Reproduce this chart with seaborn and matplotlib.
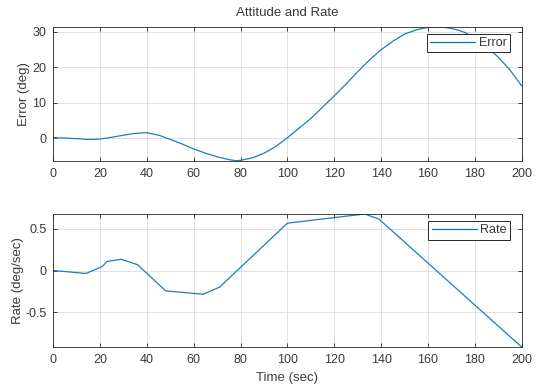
import numpy as np
import pandas as pd
import matplotlib
matplotlib.use("Agg")
import matplotlib.pyplot as plt
import seaborn as sns

# Attitude error history (deg)
err_time = [0, 5, 10, 15, 20, 25, 30, 35, 40, 45, 50, 55, 60, 65, 70, 75, 78, 80,
            85, 90, 95, 100, 105, 110, 115, 120, 125, 130, 135, 140, 145, 150, 155,
            158, 161, 164, 167, 170, 173, 176, 180, 185, 190, 195, 200]
err_deg = [0.2, 0.1, -0.1, -0.3, -0.2, 0.3, 0.9, 1.4, 1.6, 0.9, -0.3, -1.6, -3.0,
           -4.2, -5.2, -6.0, -6.3, -6.2, -5.5, -4.2, -2.3, 0.2, 2.9, 5.6, 8.8, 12.0,
           15.3, 18.8, 22.1, 25.0, 27.4, 29.4, 30.6, 31.05, 31.35, 31.4, 31.3, 31.0,
           30.5, 29.8, 28.3, 25.8, 22.9, 19.3, 14.8]

# Body rate command history (deg/sec)
rate_time = [0, 14, 21, 23, 29, 36, 48, 64, 71, 100, 133, 139, 200]
rate_dps = [0.0, -0.035, 0.05, 0.11, 0.135, 0.07, -0.245, -0.285, -0.20, 0.57,
            0.68, 0.62, -0.92]

x_ticks = [0, 20, 40, 60, 80, 100, 120, 140, 160, 180, 200]
err_ticks = [0, 10, 20, 30]
rate_ticks = [-0.5, 0, 0.5]
rate_ticklabels = ["-0.5", "0", "0.5"]

sns.set_style("ticks")
text_grey = "#3a3a3a"
plt.rcParams.update({
    "font.family": ["Liberation Sans", "DejaVu Sans"],
    "font.size": 9,
    "axes.edgecolor": "#262626",
    "axes.linewidth": 0.6,
    "xtick.direction": "in",
    "ytick.direction": "in",
    "xtick.major.size": 3,
    "ytick.major.size": 3,
    "xtick.major.width": 0.6,
    "ytick.major.width": 0.6,
    "xtick.color": "#262626",
    "ytick.color": "#262626",
    "xtick.labelcolor": text_grey,
    "ytick.labelcolor": text_grey,
    "text.color": text_grey,
    "axes.labelcolor": text_grey,
})

line_color = "#1a7cc4"

err_df = pd.DataFrame({"Time": err_time, "Error": err_deg})
rate_df = pd.DataFrame({"Time": rate_time, "Rate": rate_dps})

fig = plt.figure(figsize=(5.39, 3.86), dpi=100)
ax1 = fig.add_axes([0.0989, 0.5837, 0.8689, 0.3463])
ax2 = fig.add_axes([0.0989, 0.1010, 0.8689, 0.3446])


def style_axes(ax):
    ax.grid(True, color="#dcdcdc", linewidth=0.6)
    ax.set_axisbelow(True)
    ax.tick_params(top=True, right=True, labelsize=9, pad=5)
    ax.set_xticks(x_ticks)
    ax.set_xlim(0, 200)
    for s in ax.spines.values():
        s.set_visible(True)


sns.lineplot(data=err_df, x="Time", y="Error", ax=ax1, color=line_color,
             linewidth=0.9, label="Error", sort=False)
style_axes(ax1)
ax1.set_yticks(err_ticks)
ax1.set_ylim(min(err_deg), max(err_deg))
ax1.set_xlabel("")
ax1.set_ylabel("Error (deg)", fontsize=9.5, labelpad=2)
ax1.set_title("Attitude and Rate", fontsize=9.5, pad=8)

sns.lineplot(data=rate_df, x="Time", y="Rate", ax=ax2, color=line_color,
             linewidth=0.9, label="Rate", sort=False)
style_axes(ax2)
ax2.set_yticks(rate_ticks)
ax2.set_yticklabels(rate_ticklabels)
ax2.set_ylim(min(rate_dps), max(rate_dps))
ax2.set_xlabel("Time (sec)", fontsize=9.5, labelpad=4)
ax2.set_ylabel("Rate (deg/sec)", fontsize=9.5, labelpad=1)

for ax, anchor in ((ax1, (0.975, 0.948)), (ax2, (0.975, 0.945))):
    leg = ax.legend(loc="upper right", bbox_to_anchor=anchor, fontsize=9,
                    frameon=True, fancybox=False, framealpha=1.0,
                    edgecolor="#262626", handlelength=3.6, handletextpad=0.3,
                    borderpad=0.25, borderaxespad=0.0)
    leg.get_frame().set_linewidth(0.7)
    for h in leg.get_lines():
        h.set_color("#0072BD")

fig.savefig("out.png", dpi=100)
